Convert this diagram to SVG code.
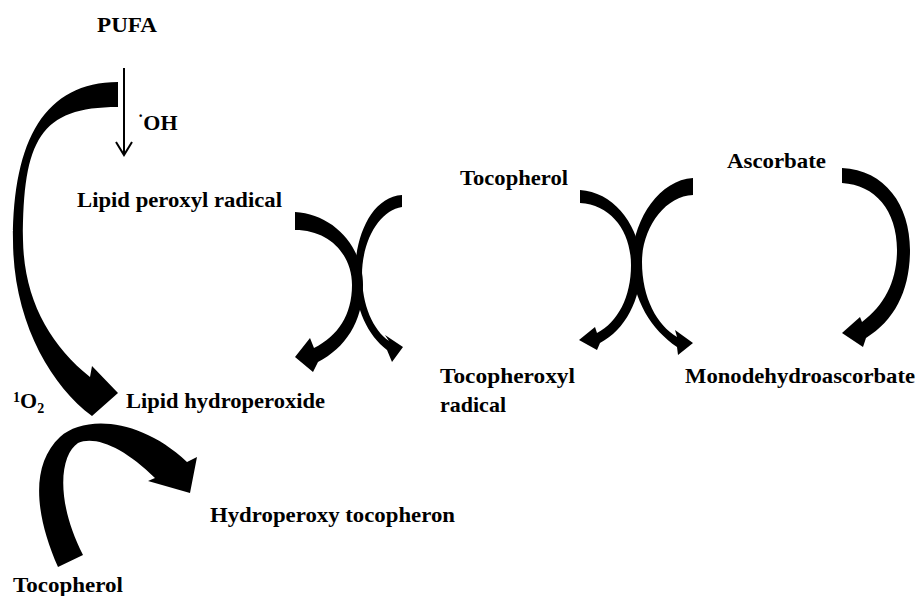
<svg xmlns="http://www.w3.org/2000/svg" width="917" height="596" viewBox="0 0 917 596">
<style>
  text { font-family: "Liberation Serif", "Times New Roman", serif; font-weight: bold; font-size: 22px; fill: #000; }
  .arc { fill: #000; stroke: none; }
  .thin { fill: none; stroke: #000; stroke-width: 2; }
</style>
<rect x="0" y="0" width="917" height="596" fill="#fff"/>
<g id="connectors">
  <!-- PUFA -> Lipid peroxyl radical (.OH) -->
  <line class="thin" x1="124" y1="68" x2="124" y2="155"/>
  <polyline class="thin" points="116,142 124,155 132,142"/>
  <!-- big crescent: PUFA -> Lipid hydroperoxide (1O2) -->
  <path class="arc" d="M118,82 C45,82 13,140 13,240 C13,320 50,385 92,416 L118,393 L92,366 L90,377 C50,345 24,300 23,240 C23,140 40,107 118,107 Z"/>
  <!-- Tocopherol -> Hydroperoxy tocopheron -->
  <path class="arc" d="M58,567 C35,515 30,465 60,437 C85,415 140,418 187,462 L197,457 L190,493 L148,481 L155,478 C125,448 95,435 78,443 C60,455 55,500 83,555 Z"/>
  <!-- Lipid peroxyl radical -> Lipid hydroperoxide -->
  <path class="arc" d="M295,212 C332,214 363,245 363,285 C363,322 345,348 318,362 L313,372 L295,357 L310,338 L314,348 C338,336 352,315 352,285 C352,255 330,230 295,230 Z"/>
  <!-- thin arc -> Tocopheroxyl radical side -->
  <path class="arc" d="M402,195 C372,197 355,235 355,275 C355,310 368,335 387,350 L392,362 L403,347 L385,335 L389,341 C373,330 362,305 362,275 C362,240 380,210 402,207 Z"/>
  <!-- Tocopherol -> Tocopheroxyl radical -->
  <path class="arc" d="M580,190 C615,192 641,228 641,265 C641,300 625,330 600,343 L597,350 L579,340 L595,327 L597,333 C618,322 631,297 631,265 C631,232 612,205 580,203 Z"/>
  <!-- -> Monodehydroascorbate -->
  <path class="arc" d="M693,178 C658,180 632,222 632,262 C632,300 652,330 677,347 L678,355 L693,343 L675,330 L677,337 C657,325 642,298 642,262 C642,228 665,196 693,195 Z"/>
  <!-- Ascorbate -> Monodehydroascorbate -->
  <path class="arc" d="M842,168 C885,170 910,205 910,250 C910,290 895,320 866,338 L863,347 L842,333 L860,317 L862,322 C885,305 897,280 897,250 C897,210 875,185 842,183 Z"/>
</g>
<g id="node-pufa"><text x="97" y="32" textLength="60" lengthAdjust="spacingAndGlyphs">PUFA</text></g>
<g id="label-oh"><text x="138" y="130"><tspan font-size="16" dy="-9">·</tspan><tspan dy="9">OH</tspan></text></g>
<g id="node-lipid-peroxyl"><text x="77" y="207" textLength="205" lengthAdjust="spacingAndGlyphs">Lipid peroxyl radical</text></g>
<g id="node-tocopherol-top"><text x="460" y="185" textLength="108" lengthAdjust="spacingAndGlyphs">Tocopherol</text></g>
<g id="node-ascorbate"><text x="727" y="168" textLength="99" lengthAdjust="spacingAndGlyphs">Ascorbate</text></g>
<g id="label-1o2"><text x="13" y="408"><tspan font-size="14" dy="-6">1</tspan><tspan dy="6">O</tspan><tspan font-size="14" dy="5">2</tspan></text></g>
<g id="node-lipid-hydroperoxide"><text x="126" y="408" textLength="199" lengthAdjust="spacingAndGlyphs">Lipid hydroperoxide</text></g>
<g id="node-tocopheroxyl"><text x="440" y="383" textLength="135" lengthAdjust="spacingAndGlyphs">Tocopheroxyl</text><text x="440" y="412" textLength="66" lengthAdjust="spacingAndGlyphs">radical</text></g>
<g id="node-monodehydroascorbate"><text x="685" y="383" textLength="230" lengthAdjust="spacingAndGlyphs">Monodehydroascorbate</text></g>
<g id="node-hydroperoxy"><text x="210" y="522" textLength="245" lengthAdjust="spacingAndGlyphs">Hydroperoxy tocopheron</text></g>
<g id="node-tocopherol-bottom"><text x="13" y="592" textLength="110" lengthAdjust="spacingAndGlyphs">Tocopherol</text></g>
</svg>
